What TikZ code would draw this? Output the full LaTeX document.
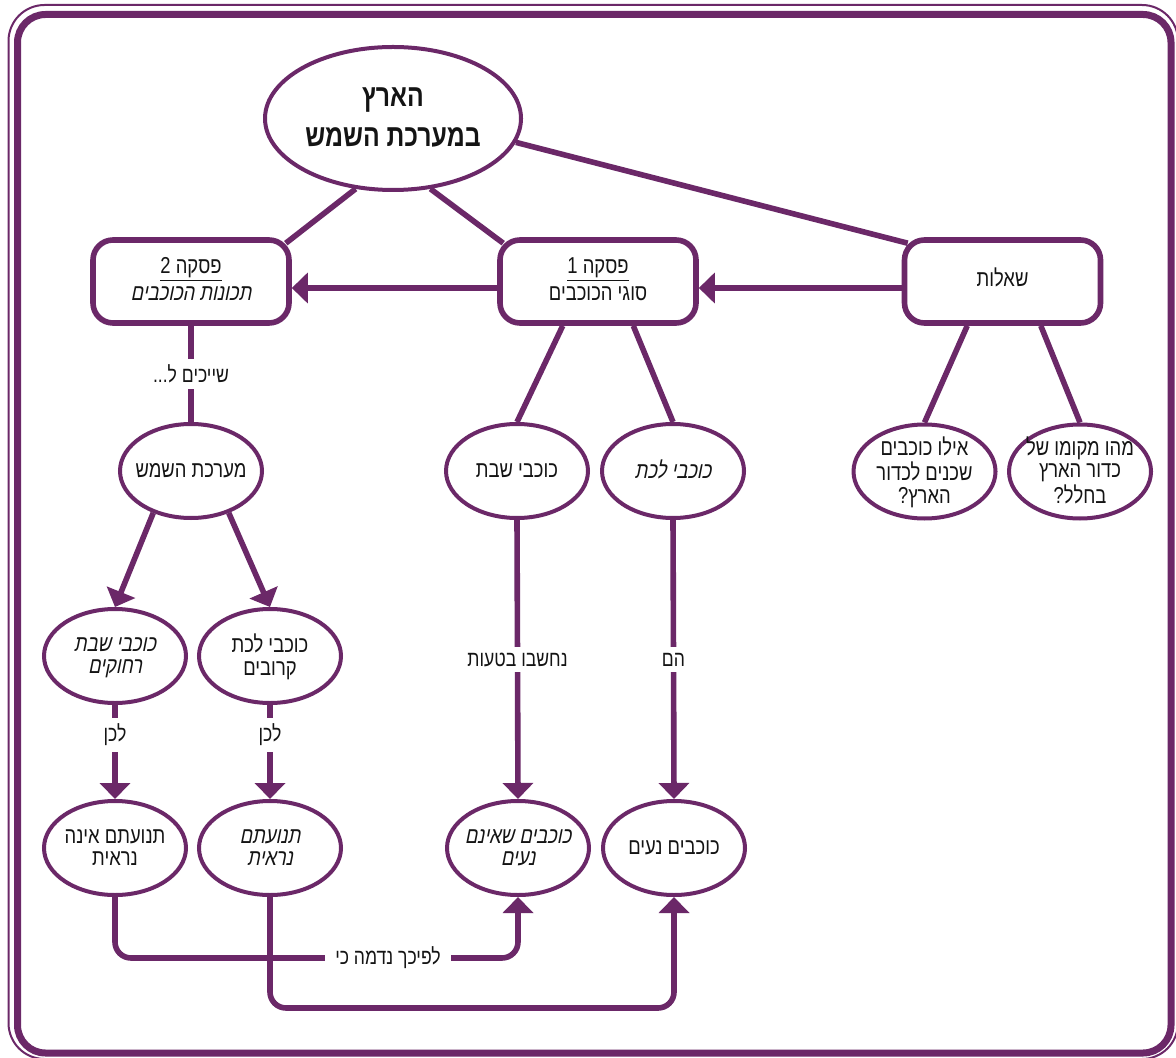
\documentclass[tikz,border=0pt]{standalone}
\usepackage{fontspec}
\setmainfont{Liberation Sans}[Script=Hebrew, FakeStretch=0.8, ItalicFont=Liberation Sans, ItalicFeatures={FakeSlant=0.2}]
\TeXXeTstate=1
\usetikzlibrary{shapes.geometric,arrows.meta,calc,backgrounds}
\definecolor{plum}{RGB}{107,40,104}
\definecolor{ink}{RGB}{20,20,20}
% one right-to-left line
\newcommand{\rtl}[1]{\beginR #1\endR}
% centred block of lines that takes no room, so a node keeps its minimum size
\newcommand{\ctext}[1]{\hbox to 0pt{\hss\vbox to 0pt{\vss\hbox{\begin{tabular}{@{}c@{}}#1\end{tabular}}\vss}\hss}}
% the same, set a little lower (for the ellipses)
\newcommand{\etext}[1]{\hbox to 0pt{\hss\lower2pt\vbox to 0pt{\vss\hbox{\begin{tabular}{@{}c@{}}#1\end{tabular}}\vss}\hss}}
\tikzset{
  ell/.style={ellipse, draw=plum, line width=2pt, fill=white, minimum width=71pt,
    minimum height=47pt, inner sep=0pt, text=ink, font=\fontsize{11.5}{11.2}\selectfont},
  topell/.style={ellipse, draw=plum, line width=2pt, fill=white, minimum width=128pt,
    minimum height=71.5pt, inner sep=0pt, text=ink, font=\bfseries\fontsize{15.5}{20}\selectfont},
  card/.style={rectangle, rounded corners=10pt, draw=plum, line width=2.8pt, fill=white,
    minimum width=98pt, minimum height=41.5pt, inner sep=0pt, text=ink,
    font=\fontsize{11.5}{13.5}\selectfont},
  link/.style={draw=plum, line width=2.8pt},
  arr/.style={link, -{Triangle[width=15pt,length=8pt]}},
  lbl/.style={fill=white, inner xsep=3pt, inner ysep=3pt, text=ink, font=\fontsize{11}{12}\selectfont},
}
\begin{document}
\begin{tikzpicture}[x=0.5pt,y=-0.5pt]
\useasboundingbox (0,0) rectangle (1176,1058);
\begin{pgfonlayer}{background}
  \fill[white] (0,0) rectangle (1176,1058);
\end{pgfonlayer}

% double frame
\draw[plum, line width=1pt, rounded corners=18pt] (8.5,5) rectangle (1178,1059);
\draw[plum, line width=3.5pt, rounded corners=14pt] (17.5,14.5) rectangle (1171,1053);

% nodes
\node[topell] (earth) at (393,118.5) {\ctext{\rtl{הארץ}\\\rtl{במערכת השמש}}};

\node[card] (b2) at (191,281.5) {\ctext{\underline{\rtl{פסקה 2}}\\\itshape\rtl{תכונות הכוכבים}}};
\node[card] (b1) at (598,281.5) {\ctext{\underline{\rtl{פסקה 1}}\\\rtl{סוגי הכוכבים}}};
\node[card] (q)  at (1002.5,281.5) {\ctext{\rtl{שאלות}}};

\node[ell] (ms)  at (191,471) {\etext{\rtl{מערכת השמש}}};
\node[ell] (ksh) at (517,471) {\etext{\rtl{כוכבי שבת}}};
\node[ell] (klc) at (673,471) {\etext{\itshape\rtl{כוכבי לכת}}};
\node[ell] (q1)  at (924.5,471.5) {\etext{\rtl{אילו כוכבים}\\\rtl{שכנים לכדור}\\\rtl{הארץ?}}};
\node[ell] (q2)  at (1080,471.5) {\etext{\rtl{מהו מקומו של}\\\rtl{כדור הארץ}\\\rtl{בחלל?}}};

\node[ell] (far)  at (115,656) {\etext{\itshape\rtl{כוכבי שבת}\\\itshape\rtl{רחוקים}}};
\node[ell] (near) at (270,656) {\etext{\rtl{כוכבי לכת}\\\rtl{קרובים}}};

\node[ell] (inv) at (115,848) {\etext{\rtl{תנועתם אינה}\\\rtl{נראית}}};
\node[ell] (vis) at (270,848) {\etext{\itshape\rtl{תנועתם}\\\itshape\rtl{נראית}}};
\node[ell] (still) at (518,848) {\etext{\itshape\rtl{כוכבים שאינם}\\\itshape\rtl{נעים}}};
\node[ell] (mov)  at (674,848) {\etext{\rtl{כוכבים נעים}}};

% plain links, kept behind the shapes
\begin{pgfonlayer}{background}
  \draw[link] (earth.242) -- ($(b2.north east)+(-6,6)$);
  \draw[link] (earth.298) -- ($(b1.north west)+(6,6)$);
  \draw[link] (earth.349) -- ($(q.north west)+(6,6)$);
  \draw[link] ($(b1.south)!0.35!(b1.south west)$) -- (ksh.north);
  \draw[link] ($(b1.south)!0.35!(b1.south east)$) -- (klc.north);
  \draw[link] ($(q.south)!0.35!(q.south west)$) -- (q1.north);
  \draw[link] ($(q.south)!0.38!(q.south east)$) -- (q2.north);
  \draw[link] (b2.south) -- node[lbl] (l0) {\rtl{שייכים ל...}} (ms.north);
\end{pgfonlayer}

% arrows
\draw[arr] ($(b1.west)+(0,6.5)$) -- ($(b2.east)+(0,6.5)$);
\draw[arr] ($(q.west)+(0,6.5)$) -- ($(b1.east)+(0,6.5)$);
\draw[arr] (ms.228) -- (far.north);
\draw[arr] (ms.312) -- (near.north);
\draw[arr] (far.south) -- node[lbl, pos=0.32] (l1) {\rtl{לכן}} (inv.north);
\draw[arr] (near.south) -- node[lbl, pos=0.32] (l2) {\rtl{לכן}} (vis.north);
\draw[arr] (ksh.south) -- node[lbl, pos=0.5] (l3) {\rtl{נחשבו בטעות}} (still.north);
\draw[arr] (klc.south) -- node[lbl, pos=0.5] (l4) {\rtl{הם}} (mov.north);

\coordinate (low1) at (0,958);
\coordinate (low2) at (0,1008);
\draw[arr, rounded corners=8pt] (inv.south) -- (inv.south |- low1) -- (still.south |- low1) -- (still.south);
\draw[arr, rounded corners=8pt] (vis.south) -- (vis.south |- low2) -- (mov.south |- low2) -- (mov.south);
\node[lbl, inner xsep=5pt] (l5) at (388,958) {\rtl{לפיכך נדמה כי}};
\end{tikzpicture}
\end{document}
